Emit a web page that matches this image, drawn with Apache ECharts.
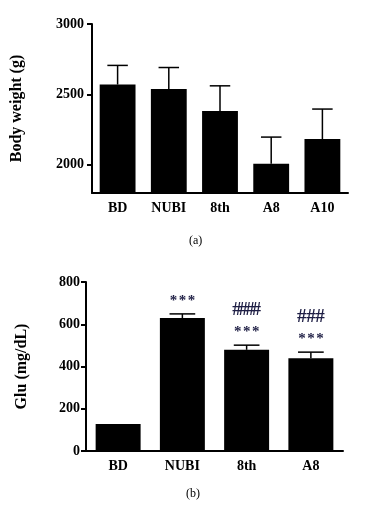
<!DOCTYPE html>
<html>
<head>
<meta charset="utf-8">
<script src="https://cdn.jsdelivr.net/npm/echarts@6/dist/echarts.min.js"></script>
<style>
  html, body { margin: 0; padding: 0; background: #fff; }
  #main { width: 376px; height: 505px; }
</style>
</head>
<body>
<div id="main"></div>
<script>
// panel (a): body weight
var catsA = ['BD', 'NUBI', '8th', 'A8', 'A10'];
var weightMean = [2570, 2538, 2382, 2007, 2183];
var weightErr = [136, 153, 179, 190, 213];
var weightTicks = [2000, 2500, 3000];

// panel (b): glucose
var catsB = ['BD', 'NUBI', '8th', 'A8'];
var gluMean = [128, 629, 479, 439];
var gluErr = [0, 20, 22, 29];
var gluStars = ['', '***', '***', '***'];
var gluHash = ['', '', '####', '###'];

var serif = "'Liberation Serif', 'Times New Roman', serif";
var ink = '#000';
var markInk = '#1f1f45';

function errBar(mean, err, xi, yi) {
    return {
        type: 'custom',
        xAxisIndex: xi,
        yAxisIndex: yi,
        z: 3,
        data: mean.map(function (m, i) { return [i, m, m + err[i]]; }),
        renderItem: function (params, api) {
            var p0 = api.coord([api.value(0), api.value(1)]);
            var p1 = api.coord([api.value(0), api.value(2)]);
            var half = api.size([1, 0])[0] * 0.2;
            if (p0[1] - p1[1] < 0.5) return null;
            var st = { stroke: ink, lineWidth: 1.5 };
            return {
                type: 'group',
                children: [
                    { type: 'line', shape: { x1: p0[0], y1: p0[1], x2: p1[0], y2: p1[1] }, style: st },
                    { type: 'line', shape: { x1: p1[0] - half, y1: p1[1], x2: p1[0] + half, y2: p1[1] }, style: st }
                ]
            };
        }
    };
}

// spread the characters of a mark out one by one, like the original
function spacedText(str, cx, cy, step, font) {
    var out = [];
    var n = str.length;
    for (var k = 0; k < n; k++) {
        out.push({
            type: 'text',
            x: cx + (k - (n - 1) / 2) * step,
            y: cy,
            style: { text: str[k], fill: markInk, font: font, align: 'center', verticalAlign: 'middle' }
        });
    }
    return out;
}

function yAxisBase(name, gap) {
    return {
        type: 'value',
        name: name,
        nameLocation: 'middle',
        nameGap: gap,
        nameTextStyle: { fontFamily: serif, fontWeight: 'bold', fontSize: 16, color: ink },
        splitLine: { show: false },
        axisLine: { show: true, lineStyle: { color: ink, width: 2 } },
        axisTick: { show: true, length: 5, lineStyle: { color: ink, width: 2 } },
        axisLabel: {
            fontFamily: serif, fontWeight: 'bold', fontSize: 14, color: ink, margin: 8,
            formatter: function (v) { return String(v); }
        }
    };
}

function xAxisBase(cats, gi) {
    return {
        type: 'category',
        gridIndex: gi,
        data: cats,
        axisLine: { lineStyle: { color: ink, width: 2 } },
        axisTick: { alignWithLabel: true, length: 5, lineStyle: { color: ink, width: 2 } },
        axisLabel: { fontFamily: serif, fontWeight: 'bold', fontSize: 14, color: ink, margin: 8 }
    };
}

var yA = yAxisBase('Body weight (g)', 67);
yA.gridIndex = 0;
yA.min = 1800;
yA.max = 3000;
yA.axisLabel.customValues = weightTicks;
yA.axisTick.customValues = weightTicks;

var yB = yAxisBase('Glu (mg/dL)', 56);
yB.gridIndex = 1;
yB.min = 0;
yB.max = 800;
yB.interval = 200;
yB.axisLabel.margin = 6;

var chart = echarts.init(document.getElementById('main'));
chart.setOption({
    animation: false,
    backgroundColor: '#fff',
    grid: [
        { left: 92, top: 24, width: 256, height: 169 },
        { left: 86, top: 282, width: 257, height: 169 }
    ],
    xAxis: [xAxisBase(catsA, 0), xAxisBase(catsB, 1)],
    yAxis: [yA, yB],
    graphic: [
        { type: 'text', left: 189, top: 235, style: { text: '(a)', font: '12px ' + serif, fill: ink } },
        { type: 'text', left: 186, top: 488, style: { text: '(b)', font: '12px ' + serif, fill: ink } }
    ],
    series: [
        {
            type: 'bar', xAxisIndex: 0, yAxisIndex: 0,
            data: weightMean, barCategoryGap: '30%',
            itemStyle: { color: ink }
        },
        errBar(weightMean, weightErr, 0, 0),
        {
            type: 'bar', xAxisIndex: 1, yAxisIndex: 1,
            data: gluMean, barCategoryGap: '30%',
            itemStyle: { color: ink }
        },
        errBar(gluMean, gluErr, 1, 1),
        {
            type: 'custom', xAxisIndex: 1, yAxisIndex: 1, z: 4,
            data: gluMean.map(function (m, i) { return [i, m + gluErr[i]]; }),
            renderItem: function (params, api) {
                var i = params.dataIndex;
                var p = api.coord([api.value(0), api.value(1)]);
                var kids = [];
                if (gluStars[i]) {
                    kids = kids.concat(spacedText(gluStars[i], p[0], p[1] - 13, 9, 'bold 15px ' + serif));
                }
                if (gluHash[i]) {
                    var four = gluHash[i].length > 3;
                    kids = kids.concat(spacedText(gluHash[i], p[0], p[1] - 35, four ? 6.6 : 9.2,
                        'bold ' + (four ? '18px ' : '19px ') + serif));
                }
                return { type: 'group', children: kids };
            }
        }
    ]
});
</script>
</body>
</html>
